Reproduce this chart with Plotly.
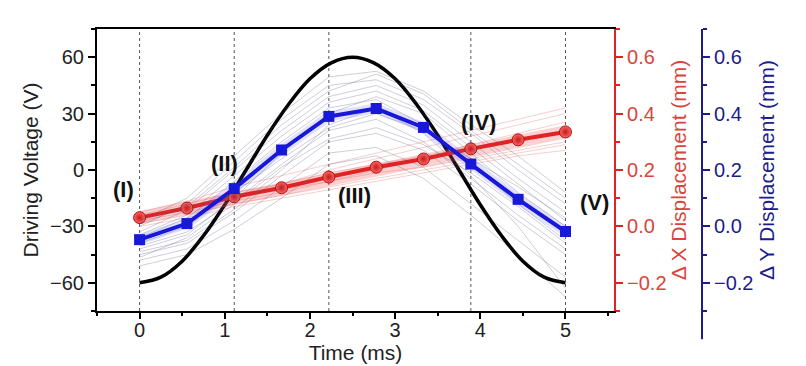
import plotly.graph_objects as go

# ---------------- data ----------------
# driving voltage (black curve)
t_volt = [0, 0.25, 0.5, 0.75, 1.0, 1.25, 1.5, 1.75, 2.0, 2.25, 2.5,
          2.75, 3.0, 3.25, 3.5, 3.75, 4.0, 4.25, 4.5, 4.75, 5.0]
voltage = [-60, -57, -48.5, -35, -18.5, 0, 18.5, 35, 48.5, 57, 60,
           57, 48.5, 35, 18.5, 0, -18.5, -35, -48.5, -57, -60]

# sample times of displacement measurements (ms)
t_disp = [0, 0.556, 1.111, 1.667, 2.222, 2.778, 3.333, 3.889, 4.444, 5.0]

# mean displacements (mm)
dx_mean = [0.031, 0.065, 0.105, 0.137, 0.175, 0.210, 0.239, 0.275, 0.307, 0.335]
dy_mean = [-0.047, 0.010, 0.134, 0.271, 0.390, 0.418, 0.351, 0.221, 0.096, -0.018]

# individual (faint) Y traces
dy_traces = [
    [-0.10, -0.06, 0.05, 0.18, 0.30, 0.33, 0.27, 0.15, 0.02, -0.10],
    [-0.02, 0.06, 0.20, 0.34, 0.46, 0.50, 0.43, 0.30, 0.17, 0.05],
    [-0.07, -0.02, 0.09, 0.22, 0.34, 0.38, 0.30, 0.17, 0.04, -0.08],
    [0.00, 0.08, 0.23, 0.38, 0.50, 0.52, 0.45, 0.33, 0.20, 0.08],
    [-0.12, -0.08, 0.02, 0.14, 0.26, 0.28, 0.21, 0.08, -0.05, -0.18],
    [-0.04, 0.03, 0.16, 0.30, 0.42, 0.45, 0.36, 0.22, 0.08, -0.05],
    [-0.08, -0.03, 0.10, 0.26, 0.40, 0.46, 0.40, 0.26, 0.12, 0.00],
    [-0.14, -0.10, -0.01, 0.10, 0.22, 0.25, 0.17, 0.04, -0.10, -0.25],
    [0.02, 0.10, 0.25, 0.40, 0.53, 0.55, 0.48, 0.36, 0.25, 0.12],
    [-0.06, 0.00, 0.12, 0.24, 0.35, 0.40, 0.34, 0.24, 0.14, 0.03],
    [-0.09, -0.05, 0.06, 0.20, 0.36, 0.42, 0.33, 0.18, 0.00, -0.22],
    [-0.03, 0.04, 0.18, 0.32, 0.44, 0.48, 0.41, 0.28, 0.15, 0.02],
    [-0.11, -0.04, 0.08, 0.21, 0.31, 0.35, 0.29, 0.19, 0.07, -0.06],
    [0.01, 0.07, 0.21, 0.36, 0.48, 0.54, 0.47, 0.34, 0.22, 0.10],
]

# individual (faint) X traces
dx_traces = [
    [0.02, 0.05, 0.09, 0.12, 0.16, 0.20, 0.24, 0.29, 0.33, 0.37],
    [0.04, 0.08, 0.12, 0.15, 0.19, 0.22, 0.25, 0.28, 0.31, 0.34],
    [0.01, 0.04, 0.08, 0.11, 0.14, 0.17, 0.20, 0.23, 0.26, 0.29],
    [0.05, 0.09, 0.14, 0.18, 0.22, 0.26, 0.30, 0.34, 0.38, 0.42],
    [0.03, 0.06, 0.10, 0.13, 0.16, 0.19, 0.21, 0.24, 0.27, 0.30],
    [0.02, 0.07, 0.11, 0.15, 0.20, 0.24, 0.28, 0.32, 0.36, 0.40],
    [0.00, 0.03, 0.07, 0.10, 0.13, 0.16, 0.19, 0.22, 0.25, 0.27],
]

# phase markers
event_times = [0, 1.111, 2.222, 3.889, 5.0]
phase_labels = ["(I)", "(II)", "(III)", "(IV)", "(V)"]
label_x = [-0.19, 1.0, 2.52, 3.98, 5.34]
label_y = [-10.5, 3.5, -13.5, 25.5, -17.5]

x_ticks = [0, 1, 2, 3, 4, 5]
v_ticks = [-60, -30, 0, 30, 60]
d_ticks = [-0.2, 0.0, 0.2, 0.4, 0.6]

# ---------------- figure ----------------
FONT = "Arial, Liberation Sans, Helvetica, sans-serif"
RED = "#e02424"
RED_TXT = "#d9443c"
BLUE = "#1818d8"
NAVY = "#1c1c8c"
TICK_SIZE = 20
TITLE_SIZE = 21

fig = go.Figure()

for tr in dy_traces:
    fig.add_trace(go.Scatter(x=t_disp, y=tr, mode="lines", yaxis="y3",
                             line=dict(color="rgba(80,80,120,0.28)", width=1),
                             hoverinfo="skip", showlegend=False))
for tr in dx_traces:
    fig.add_trace(go.Scatter(x=t_disp, y=tr, mode="lines", yaxis="y2",
                             line=dict(color="rgba(230,80,80,0.28)", width=1),
                             hoverinfo="skip", showlegend=False))

# black driving voltage
fig.add_trace(go.Scatter(x=t_volt, y=voltage, mode="lines", yaxis="y",
                         line=dict(color="black", width=3.5, shape="spline"),
                         showlegend=False))

# halos
fig.add_trace(go.Scatter(x=t_disp, y=dx_mean, mode="lines", yaxis="y2",
                         line=dict(color="rgba(240,90,90,0.28)", width=13),
                         hoverinfo="skip", showlegend=False))
fig.add_trace(go.Scatter(x=t_disp, y=dy_mean, mode="lines", yaxis="y3",
                         line=dict(color="rgba(90,90,240,0.18)", width=10),
                         hoverinfo="skip", showlegend=False))

# red X mean
fig.add_trace(go.Scatter(x=t_disp, y=dx_mean, mode="lines+markers", yaxis="y2",
                         line=dict(color=RED, width=4),
                         marker=dict(symbol="circle", size=12, color="#f36a6a",
                                     gradient=dict(type="radial", color="#cc1616"),
                                     line=dict(color="#b80f0f", width=1)),
                         showlegend=False))
# blue Y mean
fig.add_trace(go.Scatter(x=t_disp, y=dy_mean, mode="lines+markers", yaxis="y3",
                         line=dict(color=BLUE, width=4),
                         marker=dict(symbol="square", size=11, color=BLUE),
                         showlegend=False))

for t in event_times:
    fig.add_vline(x=t, line=dict(color="#555555", width=1, dash="3px,3px"), layer="below")

for txt, lx, ly in zip(phase_labels, label_x, label_y):
    fig.add_annotation(x=lx, y=ly, xref="x", yref="y", text=f"<b>{txt}</b>",
                       showarrow=False, font=dict(family=FONT, size=22, color="#111111"))

# blue axis extension below plot
fig.add_shape(type="line", xref="paper", yref="paper", x0=0.9711, x1=0.9711,
              y0=0, y1=-0.10, line=dict(color=NAVY, width=2))

tickfont = dict(family=FONT, size=TICK_SIZE, color="#222222")
fig.update_layout(
    width=798, height=358,
    margin=dict(l=89, r=86, t=21, b=55, autoexpand=False),
    paper_bgcolor="white", plot_bgcolor="white",
    font=dict(family=FONT),
    xaxis=dict(domain=[0, 0.8299], range=[-0.5, 5.57], tickvals=x_ticks, automargin=False,
               showline=True, linecolor="black", linewidth=2, mirror=True,
               ticks="outside", ticklen=6, tickwidth=2, tickcolor="black", ticklabelstandoff=-6,
               minor=dict(dtick=0.5, tick0=-0.5, ticks="outside", ticklen=3, tickwidth=1.5, tickcolor="black"),
               showgrid=False, zeroline=False, tickfont=tickfont,
               title=dict(text="Time (ms)", font=dict(family=FONT, size=TITLE_SIZE, color="#222222"), standoff=0)),
    yaxis=dict(range=[-75, 75], tickvals=v_ticks, showline=True, linecolor="black", linewidth=2,
               automargin=False,
               ticks="outside", ticklen=7, tickwidth=2, tickcolor="black",
               minor=dict(dtick=15, tick0=0, ticks="outside", ticklen=4, tickwidth=1.5, tickcolor="black"),
               showgrid=False, zeroline=False, tickfont=tickfont,
               title=dict(text="Driving Voltage (V)", font=dict(family=FONT, size=TITLE_SIZE, color="#222222"), standoff=6)),
    yaxis2=dict(range=[-0.3, 0.7], tickvals=d_ticks, tickformat=".1f", overlaying="y", side="right",
                anchor="x", showline=True, linecolor=RED, linewidth=2, automargin=False,
                ticks="outside", ticklen=7, tickwidth=2, tickcolor=RED,
                minor=dict(dtick=0.1, tick0=0, ticks="outside", ticklen=4, tickwidth=1.5, tickcolor=RED),
                showgrid=False, zeroline=False,
                tickfont=dict(family=FONT, size=TICK_SIZE, color=RED_TXT),
                title=dict(text="\u0394 X Displacement (mm)", font=dict(family=FONT, size=TITLE_SIZE, color=RED_TXT), standoff=6)),
    yaxis3=dict(range=[-0.3, 0.7], tickvals=d_ticks, tickformat=".1f", overlaying="y", side="right",
                anchor="free", position=0.9711, showline=True, linecolor=NAVY, linewidth=2, automargin=False,
                ticks="outside", ticklen=7, tickwidth=2, tickcolor=NAVY,
                minor=dict(dtick=0.1, tick0=0, ticks="outside", ticklen=4, tickwidth=1.5, tickcolor=NAVY),
                showgrid=False, zeroline=False,
                tickfont=dict(family=FONT, size=TICK_SIZE, color=NAVY),
                title=dict(text="\u0394 Y Displacement (mm)", font=dict(family=FONT, size=TITLE_SIZE, color=NAVY), standoff=6)),
)

fig.write_html("out.html")
